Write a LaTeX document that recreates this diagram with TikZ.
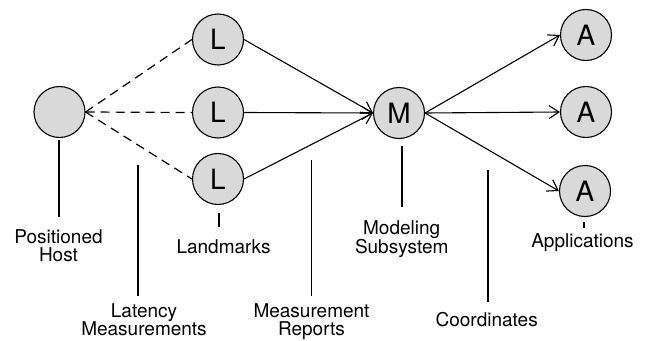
\documentclass[tikz,border=0pt]{standalone}
\usepackage{fontspec}
\setmainfont{TeX Gyre Heros}
\usetikzlibrary{arrows.meta}
\tikzset{
  ent/.style={circle, draw, fill=gray!30, minimum size=51pt, inner sep=0pt,
    line width=1.1pt, font=\fontsize{28}{28}\selectfont},
  lbl/.style={font=\fontsize{19}{18}\selectfont, align=center, inner sep=0pt, anchor=north},
  conn/.style={line width=1.1pt},
  dconn/.style={line width=1.2pt, dash pattern=on 9pt off 6pt},
  arr/.style={conn, -{Straight Barb[length=10pt,width=13pt,line width=1.1pt]}},
  tick/.style={line width=1.1pt}
}
\begin{document}
\begin{tikzpicture}[x=1pt,y=-1pt]
\useasboundingbox[fill=white] (0,0) rectangle (645,340);
% entities
\node[ent] (host) at (59.5,112) {};
\node[ent] (L1) at (218,39.5) {L};
\node[ent] (L2) at (218,112.5) {L};
\node[ent] (L3) at (218,179) {L};
\node[ent] (M) at (399,113) {M};
\node[ent] (A1) at (586,35) {A};
\node[ent] (A2) at (586,112) {A};
\node[ent] (A3) at (585,191) {A};
% labels
\node[lbl] (tHost) at (58.5,229) {Positioned\\Host};
\node[lbl] (tLat) at (144,303) {Latency\\Measurements};
\node[lbl] (tLand) at (223.5,239) {Landmarks};
\node[lbl] (tRep) at (311.5,303) {Measurement\\Reports};
\node[lbl] (tMod) at (401.7,220.5) {Modeling\\Subsystem};
\node[lbl] (tCoord) at (486.7,312) {Coordinates};
\node[lbl] (tApp) at (582.5,233) {Applications};
% tick endpoints
\coordinate (hTop) at (59,140);   \coordinate (hBot) at (59,217);
\coordinate (latTop) at (138,165); \coordinate (latBot) at (138,296);
\coordinate (lanTop) at (219,213); \coordinate (lanBot) at (219,227);
\coordinate (repTop) at (311.7,160); \coordinate (repBot) at (311.7,296);
\coordinate (modTop) at (402,146); \coordinate (modBot) at (402,207);
\coordinate (coTop) at (488,170); \coordinate (coBot) at (488,302);
\coordinate (apTop) at (584,222); \coordinate (apBot) at (584,228);
% latency measurements
\draw[dconn] (host.east) -- (L1.west);
\draw[dconn] (host.east) -- (L2.west);
\draw[dconn] (host.east) -- (L3.west);
% measurement reports
\draw[arr] (L1.east) -- (M.west);
\draw[arr] (L2.east) -- (M.west);
\draw[arr] (L3.east) -- (M.west);
% coordinates
\draw[arr] (M.east) -- (A1.west);
\draw[arr] (M.east) -- (A2.west);
\draw[arr] (M.east) -- (A3.west);
% label ticks
\draw[tick] (hTop) -- (hBot);
\draw[tick] (latTop) -- (latBot);
\draw[tick] (lanTop) -- (lanBot);
\draw[tick] (repTop) -- (repBot);
\draw[tick] (modTop) -- (modBot);
\draw[tick] (coTop) -- (coBot);
\draw[tick] (apTop) -- (apBot);
\end{tikzpicture}
\end{document}
